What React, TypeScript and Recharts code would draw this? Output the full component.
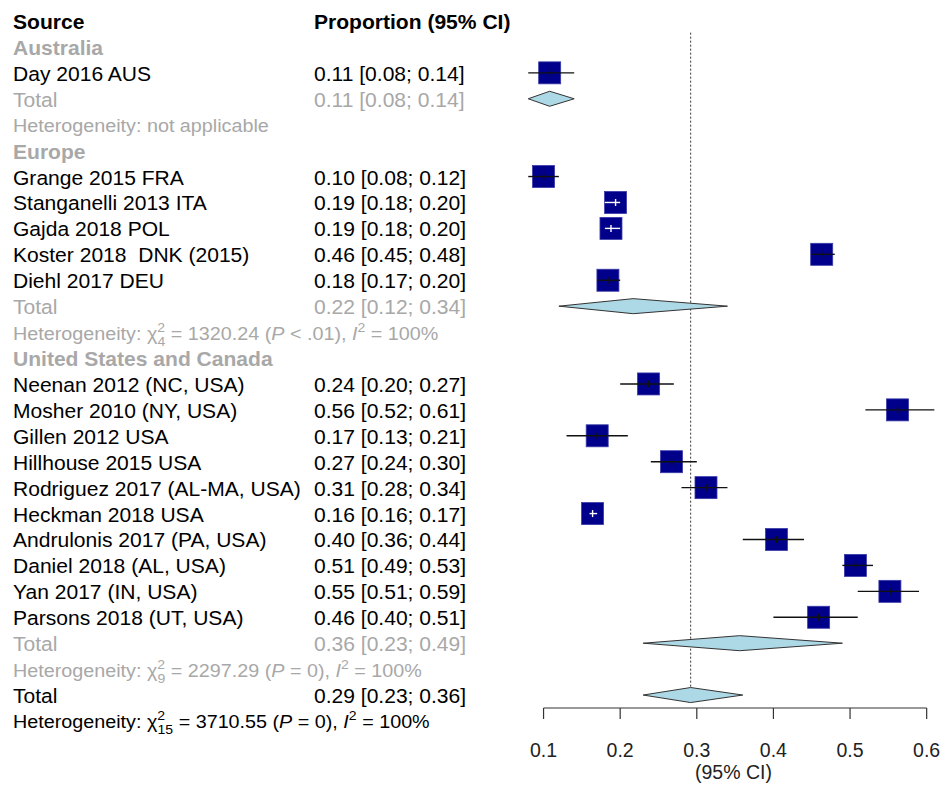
import React from 'react';
import { ScatterChart, Scatter, XAxis, YAxis, ReferenceLine, Label } from 'recharts';

// subgroups, in plotting order
const regions = ['Australia', 'Europe', 'United States and Canada'];

const studies = [
  'Day 2016 AUS',
  'Grange 2015 FRA',
  'Stanganelli 2013 ITA',
  'Gajda 2018 POL',
  'Koster 2018  DNK (2015)',
  'Diehl 2017 DEU',
  'Neenan 2012 (NC, USA)',
  'Mosher 2010 (NY, USA)',
  'Gillen 2012 USA',
  'Hillhouse 2015 USA',
  'Rodriguez 2017 (AL-MA, USA)',
  'Heckman 2018 USA',
  'Andrulonis 2017 (PA, USA)',
  'Daniel 2018 (AL, USA)',
  'Yan 2017 (IN, USA)',
  'Parsons 2018 (UT, USA)',
];
const studyRegion = [0, 1, 1, 1, 1, 1, 2, 2, 2, 2, 2, 2, 2, 2, 2, 2];
const estimate = [0.108, 0.1, 0.194, 0.188, 0.463, 0.184, 0.237, 0.562, 0.17, 0.267, 0.312, 0.164, 0.404, 0.507, 0.552, 0.459];
const lower = [0.08, 0.08, 0.18, 0.18, 0.45, 0.17, 0.2, 0.52, 0.13, 0.24, 0.28, 0.16, 0.36, 0.49, 0.51, 0.4];
const upper = [0.14, 0.12, 0.2, 0.2, 0.48, 0.2, 0.27, 0.61, 0.21, 0.3, 0.34, 0.17, 0.44, 0.53, 0.59, 0.51];

// random-effects subtotals per region
const subtotalEst = [0.108, 0.217, 0.356];
const subtotalLow = [0.08, 0.12, 0.23];
const subtotalHigh = [0.14, 0.34, 0.49];
const hetDf = [null, 4, 9];
const hetChi = ['', '1320.24', '2297.29'];
const hetP = ['', '< .01', '= 0'];
const hetI2 = ['', '100%', '100%'];

// overall
const overallEst = 0.292;
const overallLow = 0.23;
const overallHigh = 0.36;
const overallHet = { df: 15, chi: '3710.55', p: '= 0', i2: '100%' };

const xTicks = [0.1, 0.2, 0.3, 0.4, 0.5, 0.6];

const FONT = '"Liberation Sans", Arial, Helvetica, sans-serif';
const GREY = '#a8a8a8';
const NAVY = '#00008b';
const DIAMOND = '#add8e6';
const FS = 19.5;
const FS_HET = 18.3;

const fmt = (e: number, l: number, h: number) => `${e.toFixed(2)} [${l.toFixed(2)}; ${h.toFixed(2)}]`;

type Row = {
  kind: 'header' | 'region' | 'study' | 'total' | 'het';
  label?: string;
  ci?: string;
  grey?: boolean;
  het?: { df: number | null; chi: string; p: string; i2: string };
};

// build the table rows
const rows: Row[] = [{ kind: 'header' }];
const studyRows: number[] = [];
const totalRows: number[] = [];
regions.forEach((reg, g) => {
  rows.push({ kind: 'region', label: reg, grey: true });
  studies.forEach((s, i) => {
    if (studyRegion[i] !== g) return;
    studyRows[i] = rows.length;
    rows.push({ kind: 'study', label: s, ci: fmt(estimate[i], lower[i], upper[i]) });
  });
  totalRows.push(rows.length);
  rows.push({ kind: 'total', label: 'Total', grey: true, ci: fmt(subtotalEst[g], subtotalLow[g], subtotalHigh[g]) });
  rows.push({ kind: 'het', grey: true, het: { df: hetDf[g], chi: hetChi[g], p: hetP[g], i2: hetI2[g] } });
});
totalRows.push(rows.length);
rows.push({ kind: 'total', label: 'Total', ci: fmt(overallEst, overallLow, overallHigh) });
rows.push({ kind: 'het', het: overallHet });

const rowTicks = rows.map((_, i) => i);
const Y_MAX = 26.5;

// CI fits inside the square -> drawn in white
const studyData = studies.map((name, i) => ({
  name,
  x: estimate[i],
  y: studyRows[i],
  narrow: upper[i] - lower[i] < 0.025,
}));
// whisker of each study as a two point line
const whiskers = studies.map((_, i) => [
  { x: lower[i], y: studyRows[i] },
  { x: upper[i], y: studyRows[i] },
]);

const DH = 0.29; // diamond half height in rows
const diamond = (e: number, l: number, h: number, r: number) => [
  { x: l, y: r },
  { x: e, y: r - DH },
  { x: h, y: r },
  { x: e, y: r + DH },
  { x: l, y: r },
];
const diamonds = [
  ...subtotalEst.map((e, g) => diamond(e, subtotalLow[g], subtotalHigh[g], totalRows[g])),
  diamond(overallEst, overallLow, overallHigh, totalRows[3]),
];

const HetLine = ({ het }: { het: NonNullable<Row['het']> }) => {
  if (het.df == null) return <>Heterogeneity: not applicable</>;
  const small = 13;
  return (
    <>
      {'Heterogeneity: χ'}
      <tspan dy={-8} fontSize={small}>2</tspan>
      <tspan dx={-7} dy={14} fontSize={small}>{String(het.df)}</tspan>
      <tspan dy={-6}>{` = ${het.chi} (`}</tspan>
      <tspan fontStyle="italic">P</tspan>
      <tspan>{` ${het.p}), `}</tspan>
      <tspan fontStyle="italic">I</tspan>
      <tspan dy={-8} fontSize={small}>2</tspan>
      <tspan dy={8}>{` = ${het.i2}`}</tspan>
    </>
  );
};

const RowTick = (props: any) => {
  const row = rows[props.payload.value];
  if (!row) return <g />;
  const y = props.y;
  const fill = row.grey ? GREY : '#000';
  if (row.kind === 'het') {
    return (
      <text
        transform={`translate(13,${y + 7.5}) scale(1.08,1)`}
        fontFamily={FONT}
        fontSize={FS_HET}
        fill={fill}
        style={{ whiteSpace: 'pre' }}
      >
        <HetLine het={row.het!} />
      </text>
    );
  }
  const left = row.kind === 'header' ? 'Source' : row.label;
  const right = row.kind === 'header' ? 'Proportion (95% CI)' : row.ci;
  const bold = row.kind === 'header' || row.kind === 'region';
  return (
    <g fontFamily={FONT} fontSize={FS} fill={fill} fontWeight={bold ? 'bold' : 'normal'}>
      <text transform={`translate(13,${y + 8}) scale(1.08,1)`} style={{ whiteSpace: 'pre' }}>
        {left}
      </text>
      {right && (
        <text transform={`translate(314,${y + 8}) scale(1.08,1)`} style={{ whiteSpace: 'pre' }}>
          {right}
        </text>
      )}
    </g>
  );
};

const Square = (props: any) => {
  const { cx, cy } = props;
  const s = 22;
  return <rect x={cx - s / 2} y={cy - s / 2} width={s} height={s} fill={NAVY} stroke="#3a3aa8" strokeWidth={0.8} />;
};

const TickMark = (props: any) => (
  <line
    x1={props.cx}
    x2={props.cx}
    y1={props.cy - 3.5}
    y2={props.cy + 3.5}
    stroke={props.payload.narrow ? '#fff' : '#111'}
    strokeWidth={1.4}
  />
);

const AxisTitle = (props: any) => {
  const vb = props.viewBox;
  return (
    <text
      x={vb.x + vb.width / 2 + 6}
      y={vb.y + vb.height - 8}
      textAnchor="middle"
      fontFamily={FONT}
      fontSize={FS}
      fill="#222"
    >
      (95% CI)
    </text>
  );
};

const App = () => {
  return (
    <div style={{ position: 'absolute', left: 0, top: 0, width: 946, height: 787, background: '#fff' }}>
      <ScatterChart width={946} height={787} margin={{ top: 21, right: 4, bottom: 0, left: 0 }}>
        <XAxis
          type="number"
          dataKey="x"
          domain={[0.06, 0.62]}
          ticks={xTicks}
          interval={0}
          height={79}
          axisLine={false}
          tickLine={{ stroke: '#333', strokeWidth: 1.2 }}
          tickSize={11}
          tickMargin={24}
          tick={{ fontFamily: FONT, fontSize: FS, fill: '#222' }}
          tickFormatter={(v: number) => String(v)}
        >
          <Label content={<AxisTitle />} />
        </XAxis>
        <YAxis
          type="number"
          dataKey="y"
          domain={[0, Y_MAX]}
          reversed
          ticks={rowTicks}
          interval={0}
          width={512.9}
          axisLine={false}
          tickLine={false}
          tick={<RowTick />}
        />
        <Scatter data={studyData} shape={<Square />} isAnimationActive={false} />
        {whiskers.map((pts, i) => (
          <Scatter
            key={`w${i}`}
            data={pts}
            shape={() => <g />}
            line={{ stroke: studyData[i].narrow ? '#fff' : '#111', strokeWidth: 1.4 }}
            isAnimationActive={false}
          />
        ))}
        <Scatter data={studyData} shape={<TickMark />} isAnimationActive={false} />
        {diamonds.map((pts, i) => (
          <Scatter
            key={`d${i}`}
            data={pts}
            shape={() => <g />}
            line={{ fill: DIAMOND, stroke: '#333', strokeWidth: 1 }}
            isAnimationActive={false}
          />
        ))}
        <ReferenceLine
          segment={[
            { x: 0.1, y: Y_MAX },
            { x: 0.6, y: Y_MAX },
          ]}
          stroke="#333"
          strokeWidth={1.2}
        />
        <ReferenceLine
          segment={[
            { x: overallEst, y: 0.45 },
            { x: overallEst, y: totalRows[3] - DH },
          ]}
          stroke="#333"
          strokeDasharray="2 2"
          strokeWidth={1}
        />
      </ScatterChart>
    </div>
  );
};

export default App;
